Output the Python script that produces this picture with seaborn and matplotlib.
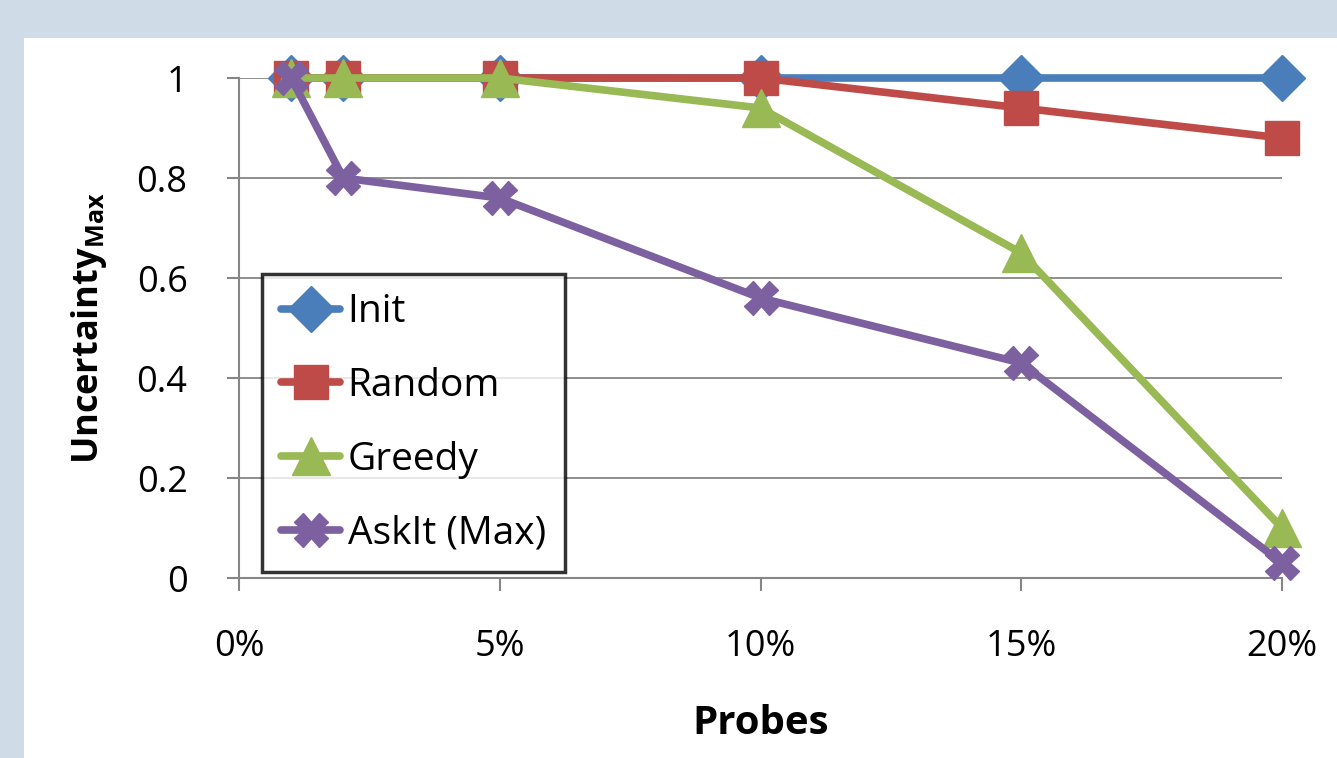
import seaborn as sns
from matplotlib import pyplot as plt
from matplotlib.patches import Rectangle
import pandas as pd

probes = [1, 2, 5, 10, 15, 20]
init = [1, 1, 1, 1, 1, 1]
random = [1, 1, 1, 1, 0.94, 0.88]
greedy = [1, 1, 1, 0.94, 0.65, 0.10]
askit = [1, 0.80, 0.76, 0.56, 0.43, 0.03]

x_ticks = [0, 5, 10, 15, 20]
x_tick_labels = ["0%", "5%", "10%", "15%", "20%"]
y_ticks = [0, 0.2, 0.4, 0.6, 0.8, 1]
y_tick_labels = ["0", "0.2", "0.4", "0.6", "0.8", "1"]

series = [
    ("Init", init, "#4a7ebb", "D", 23),
    ("Random", random, "#be4b48", "s", 25),
    ("Greedy", greedy, "#98b954", "^", 27),
    ("AskIt (Max)", askit, "#7d60a0", "X", 24),
]

sns.set_style("white")
plt.rcParams['font.family'] = ['Open Sans', 'DejaVu Sans']
plt.rcParams['mathtext.fontset'] = 'custom'
plt.rcParams['mathtext.bf'] = 'Open Sans:bold'
plt.rcParams['mathtext.rm'] = 'Open Sans'
plt.rcParams['text.color'] = 'black'
plt.rcParams['axes.labelcolor'] = 'black'

fig = plt.figure(figsize=(13.37, 7.58), dpi=100)
fig.patch.set_facecolor("#cfdbe6")
fig.patches.append(Rectangle((24 / 1337, 0), 1, 1 - 38 / 758, transform=fig.transFigure,
                             facecolor="white", edgecolor="none", zorder=-5))
ax = fig.add_axes([239 / 1337, 1 - 578 / 758, 1043 / 1337, 500 / 758])
ax.set_facecolor("white")

for name, vals, color, marker, ms in series:
    df = pd.DataFrame({"Probes": probes, "value": vals})
    sns.lineplot(data=df, x="Probes", y="value", ax=ax, color=color, marker=marker,
                 markersize=ms, markeredgecolor=color, markeredgewidth=1,
                 linewidth=5.5, label=name, clip_on=False, zorder=3)

ax.set_xlim(0, 20)
ax.set_ylim(0, 1)
ax.set_xticks(x_ticks)
ax.set_xticklabels(x_tick_labels)
ax.set_yticks(y_ticks)
ax.set_yticklabels(y_tick_labels)
ax.tick_params(axis="both", labelsize=26, colors="#868686", length=9, width=1.5,
               labelcolor="black")
ax.tick_params(axis="x", pad=28, direction="out", bottom=True)
ax.tick_params(axis="y", pad=28, direction="out", left=True)
ax.grid(axis="y", color="#868686", linewidth=1.3)
ax.set_axisbelow(True)
for s in ["top", "right"]:
    ax.spines[s].set_visible(False)
for s in ["left", "bottom"]:
    ax.spines[s].set_color("#868686")
    ax.spines[s].set_linewidth(1.5)

ax.set_xlabel("Probes", fontsize=29, fontweight="bold", labelpad=28)
ax.set_ylabel(r"$\mathbf{Uncertainty}_{\mathbf{Max}}$", fontsize=26, labelpad=20)

leg = ax.legend(loc="lower left", bbox_to_anchor=(0.022, 0.012), fontsize=28,
                frameon=True, fancybox=False, borderpad=0.5, labelspacing=0.92,
                handlelength=1.5, handletextpad=0.2, borderaxespad=0)
leg.get_frame().set_edgecolor("black")
leg.get_frame().set_linewidth(2.5)

fig.savefig("out.png", dpi=100, facecolor=fig.get_facecolor())
